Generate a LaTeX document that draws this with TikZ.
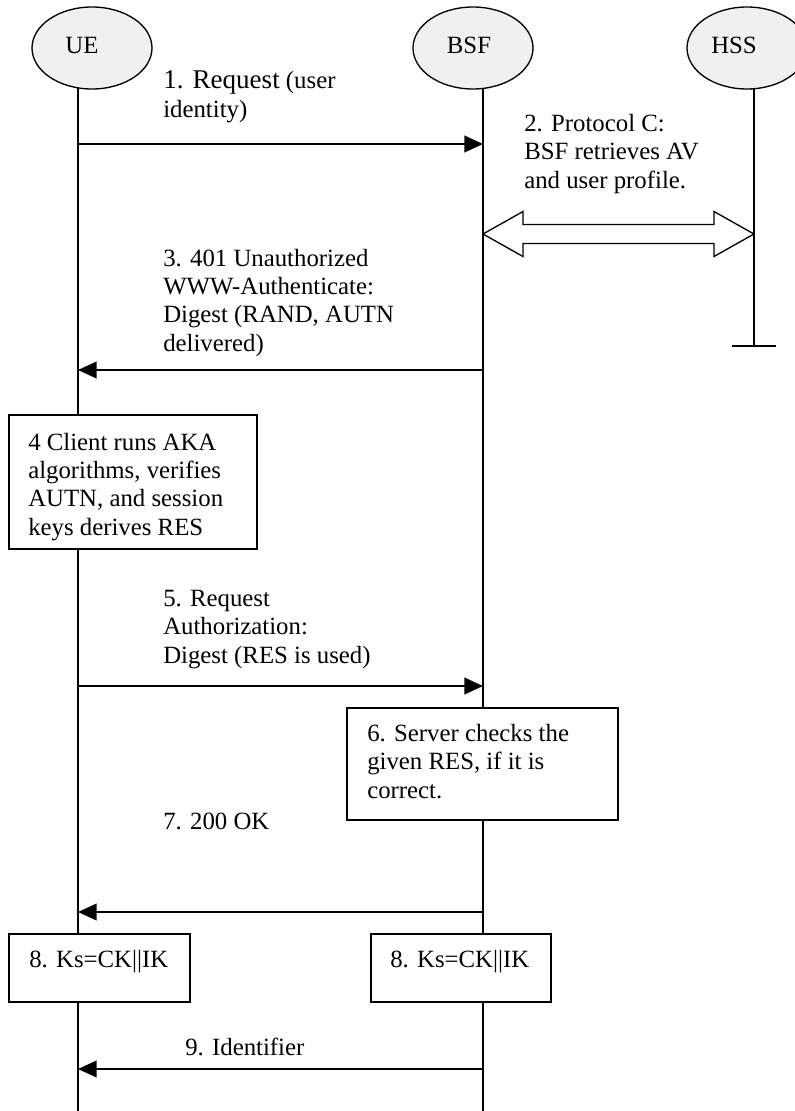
\documentclass[tikz,border=0pt]{standalone}
\usepackage{fontspec}
\setmainfont{Liberation Serif}
\usetikzlibrary{shapes.geometric,arrows.meta}

\begin{document}
\begin{tikzpicture} [x=0.75pt,y=-0.75pt,
      every node/.style={font=\fontsize{18.6}{21.2}\selectfont},
      entity/.style={ellipse,draw,line width=1pt,fill=gray!12,minimum width=90pt,minimum height=61.5pt,inner sep=0pt},
      life/.style={line width=1pt},
      msg/.style={line width=1.5pt,-{Triangle[length=14pt,width=12.5pt]}},
      box/.style={draw,line width=1.3pt,fill=white,inner sep=0pt,outer sep=0pt},
      txt/.style={align=left,anchor=base west,inner sep=0pt}]
      \useasboundingbox (0,0) rectangle (794,1111);
      % lifelines
      \coordinate (ue-top)  at (78,48);
      \coordinate (ue-end)  at (78,1111);
      \coordinate (bsf-top) at (483,48);
      \coordinate (bsf-end) at (483,1111);
      \coordinate (hss-top) at (754,48);
      \coordinate (hss-end) at (754,346);
      \draw[life] (ue-top) -- (ue-end);
      \draw[life] (bsf-top) -- (bsf-end);
      \draw[life] (hss-top) -- (hss-end);
      \draw[life] (hss-end) ++(-22,0) -- ++(44,0);
      % entities
      \node[entity] (ue)  at (92,48)  {};
      \node[entity] (bsf) at (473,48) {};
      \node[entity] (hss) at (747,48) {};
      \node[anchor=base] (ue-name)  at (82,53)  {UE};
      \node[anchor=base] (bsf-name) at (469,53) {BSF};
      \node[anchor=base] (hss-name) at (734,53) {HSS};
      % boxes (text nodes sit on their last line)
      \node[box,minimum width=186pt,minimum height=100.5pt] (client) at (133,482) {};
      \node[box,minimum width=203.25pt,minimum height=84pt] (server) at (482.5,764) {};
      \node[box,minimum width=135.75pt,minimum height=51pt] (ks-ue)  at (99.5,968) {};
      \node[box,minimum width=135pt,minimum height=51pt]    (ks-bsf) at (461,968) {};
      \node[txt] (client-t) at (28,535) {4 Client runs AKA\\algorithms, verifies\\AUTN, and session\\keys derives RES};
      \node[txt] (server-t) at (367,798) {6. Server checks the\\given RES, if it is\\correct.};
      \node[txt] (ks-ue-t)  at (29,967)  {8. Ks=CK||IK};
      \node[txt] (ks-bsf-t) at (390,967) {8. Ks=CK||IK};
      % messages
      \coordinate (ue1) at (78,144);   \coordinate (bsf1) at (483,144);
      \coordinate (ue3) at (78,370);   \coordinate (bsf3) at (483,370);
      \coordinate (ue5) at (78,686);   \coordinate (bsf5) at (483,686);
      \coordinate (ue7) at (78,912);   \coordinate (bsf7) at (483,912);
      \coordinate (ue9) at (78,1069);  \coordinate (bsf9) at (483,1069);
      \draw[msg] (ue1) -- (bsf1);
      \draw[msg] (bsf3) -- (ue3);
      \draw[msg] (ue5) -- (bsf5);
      \draw[msg] (bsf7) -- (ue7);
      \draw[msg] (bsf9) -- (ue9);
      \node[txt] (m1) at (163,117) {{\fontsize{20.3}{21.2}\selectfont 1. Request} (user\\identity)};
      \node[txt] (m3) at (163,351) {3. 401 Unauthorized\\WWW-Authenticate:\\Digest (RAND, AUTN\\delivered)};
      \node[txt] (m5) at (163,663) {5. Request\\Authorization:\\Digest (RES is used)};
      \node[txt] (m7) at (163,829) {7. 200 OK};
      \node[txt] (m9) at (185,1055) {9. Identifier};
      % protocol C, both ways
      \coordinate (bsf2) at (483,234);
      \coordinate (hss2) at (754,234);
      \draw[line width=1pt,fill=white] (bsf2) -- ++(40,-22.5) -- ++(0,13) -- ++(191,0) -- ++(0,-13)
            -- (hss2) -- ++(-40,22.5) -- ++(0,-13) -- ++(-191,0) -- ++(0,13) -- cycle;
      \node[txt] (m2) at (524,188) {2. Protocol C:\\BSF retrieves AV\\and user profile.};
    \end{tikzpicture}
\end{document}
